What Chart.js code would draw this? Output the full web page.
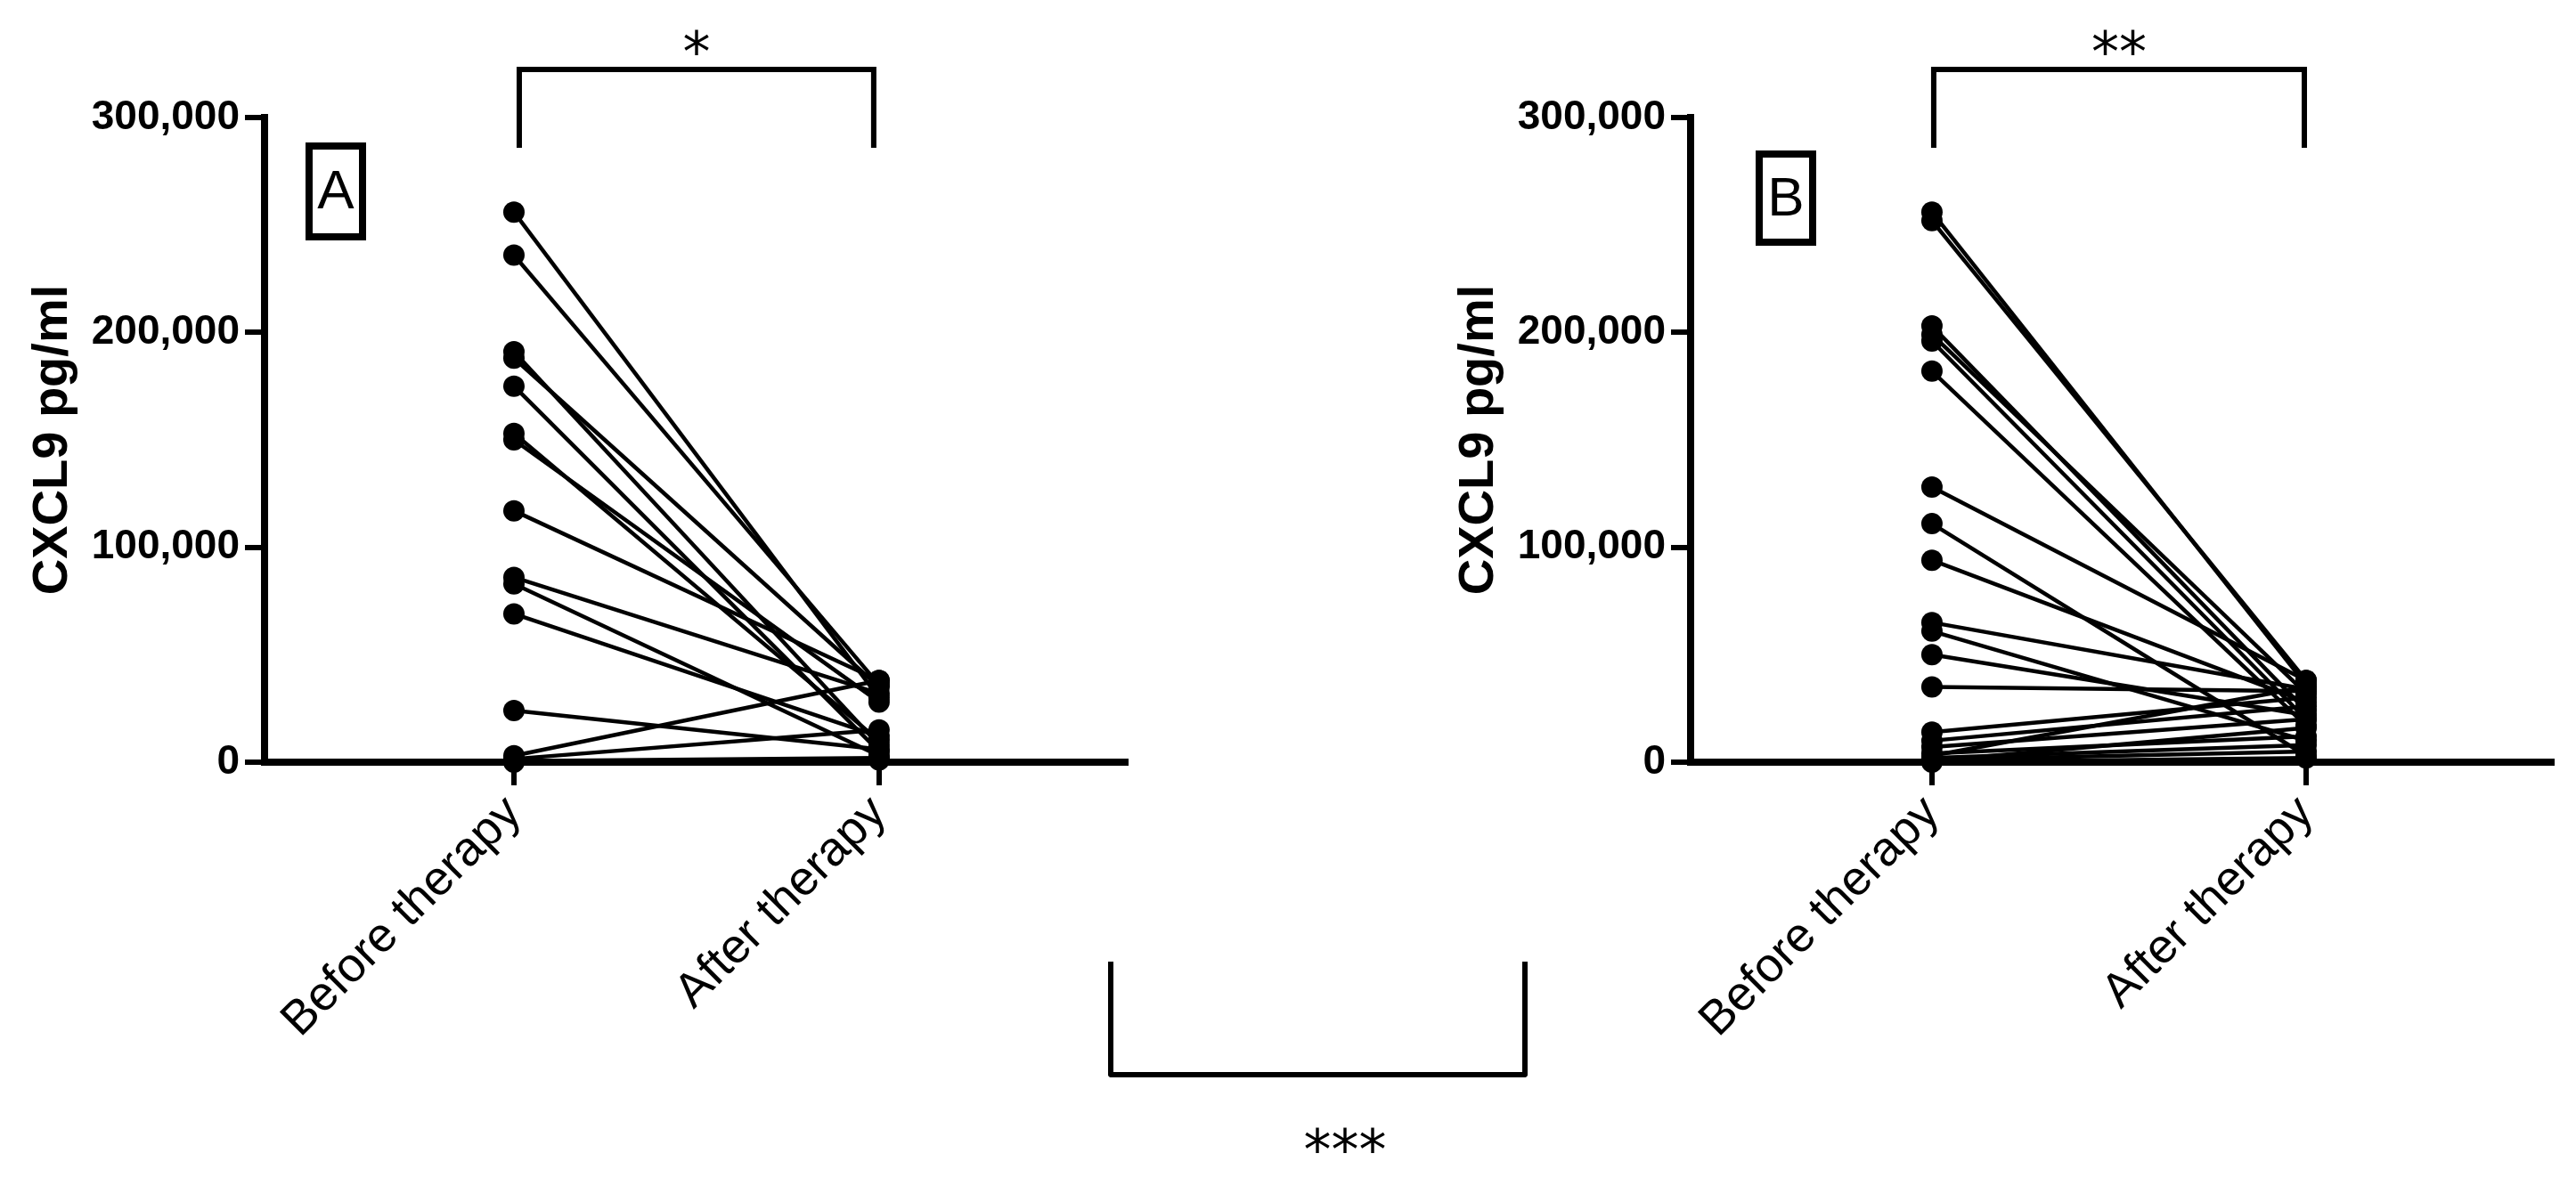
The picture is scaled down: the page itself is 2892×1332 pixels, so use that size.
<!DOCTYPE html>
<html>
<head>
<meta charset="utf-8">
<script src="https://cdn.jsdelivr.net/npm/chart.js@4.4.1/dist/chart.umd.min.js"></script>
<style>
  html, body { margin: 0; padding: 0; background: #fff; }
  body { width: 2892px; height: 1332px; position: relative; overflow: hidden; }
  .panel { position: absolute; top: 0; width: 1446px; height: 1332px; }
  #wrapA { left: 0; }
  #wrapB { left: 1446px; }
  #bracket { position: absolute; left: 1244px; top: 1080px; width: 459px; height: 124px;
             border: 6px solid #000; border-top: none; border-radius: 0 0 4px 4px; }
  #stars3 { position: absolute; left: 1410px; top: 1257px; width: 200px; text-align: center;
            font: 62px "DejaVu Sans", sans-serif; line-height: 70px; color: #000; }
</style>
</head>
<body>
<div class="panel" id="wrapA"><canvas id="chartA"></canvas></div>
<div class="panel" id="wrapB"><canvas id="chartB"></canvas></div>
<div id="bracket"></div>
<div id="stars3">***</div>
<script>
// groups on the x axis
var groups = ['Before therapy', 'After therapy'];
var yTicks = [0, 100000, 200000, 300000];
var yTitle = 'CXCL9 pg/ml';

// panel A, one entry per patient
var beforeA = [256000, 236000, 191000, 188000, 175000, 153000, 150000, 117000, 86000, 83000, 69000, 24000, 3000, 1500, 500, 0];
var afterA  = [30000, 36000, 8000, 35000, 5000, 10000, 28000, 38000, 32000, 3000, 12000, 6000, 38000, 15000, 2000, 1000];

// panel B
var beforeB = [256000, 252000, 203000, 199000, 196000, 182000, 128000, 111000, 94000, 65000, 61000, 50000, 35000, 14000, 10000, 7000, 4000, 3000, 2000, 1000, 500, 0];
var afterB  = [36000, 38000, 24000, 32000, 20000, 17000, 38000, 3000, 28000, 34000, 10000, 22000, 33000, 30000, 26000, 20000, 12000, 35000, 8000, 5000, 16000, 2000];

var FONT = "'Liberation Sans', Arial, sans-serif";

// brackets, stars and the letter box on top of each panel
var annotate = {
  id: 'annotate',
  afterDraw: function (chart, args, opts) {
    var ctx = chart.ctx;
    var x = chart.scales.x;
    var area = chart.chartArea;
    var x0 = x.getPixelForValue(0) + opts.inset;
    var x1 = x.getPixelForValue(1) - opts.inset;
    ctx.save();
    ctx.strokeStyle = '#000';
    ctx.fillStyle = '#000';
    ctx.lineWidth = 6;
    ctx.beginPath();
    ctx.moveTo(x0, 166);
    ctx.lineTo(x0, 78);
    ctx.lineTo(x1, 78);
    ctx.lineTo(x1, 166);
    ctx.stroke();

    ctx.font = "62px 'DejaVu Sans', sans-serif";
    ctx.textAlign = 'center';
    ctx.textBaseline = 'alphabetic';
    ctx.fillText(opts.stars, (x0 + x1) / 2, 80);

    // letter box
    var bx = area.left + opts.boxDx;
    ctx.lineWidth = 8;
    ctx.strokeRect(bx + 4, opts.boxTop + 4, 60, opts.boxH - 8);
    ctx.font = '300 62px ' + FONT;
    ctx.textBaseline = 'middle';
    ctx.fillText(opts.letter, bx + 34, opts.boxTop + opts.boxH / 2 + 2);
    ctx.restore();
  }
};

function makeChart(id, before, after, pad, xr, ann) {
  var datasets = [];
  for (var i = 0; i < before.length; i++) {
    datasets.push({
      data: [{ x: 0, y: before[i] }, { x: 1, y: after[i] }],
      borderColor: '#000',
      backgroundColor: '#000',
      borderWidth: 4.5,
      pointRadius: 12,
      pointBorderWidth: 0,
      pointBackgroundColor: '#000',
      clip: false
    });
  }

  return new Chart(document.getElementById(id), {
    type: 'line',
    data: { datasets: datasets },
    options: {
      responsive: true,
      maintainAspectRatio: false,
      animation: false,
      devicePixelRatio: 1,
      layout: { padding: pad },
      plugins: {
        legend: { display: false },
        tooltip: { enabled: false },
        annotate: ann
      },
      scales: {
        x: {
          type: 'linear',
          min: xr[0],
          max: xr[1],
          afterBuildTicks: function (scale) {
            scale.ticks = groups.map(function (g, k) { return { value: k }; });
          },
          afterFit: function (scale) { scale.height = 1332 - 856; },
          border: { display: true, color: '#000', width: 8 },
          grid: { drawOnChartArea: false, drawTicks: true, tickLength: 26, color: '#000', lineWidth: 6 },
          ticks: {
            autoSkip: false,
            maxRotation: 45,
            minRotation: 45,
            padding: 0,
            color: '#000',
            font: { family: FONT, size: 54 },
            callback: function (v) { return groups[v]; }
          }
        },
        y: {
          min: 0,
          max: 300000,
          afterBuildTicks: function (scale) {
            scale.ticks = yTicks.map(function (v) { return { value: v }; });
          },
          afterFit: function (scale) { scale.width = 297; },
          border: { display: true, color: '#000', width: 8 },
          grid: { drawOnChartArea: false, drawTicks: true, tickLength: 22, color: '#000', lineWidth: 6 },
          ticks: {
            padding: 6,
            color: '#000',
            font: { family: FONT, size: 46, weight: 'bold' },
            callback: function (v) { return v.toLocaleString('en-US'); }
          },
          title: {
            display: true,
            text: yTitle,
            color: '#000',
            padding: { top: 26, bottom: 0 },
            font: { family: FONT, size: 56, weight: 'bold' }
          }
        }
      }
    },
    plugins: [annotate]
  });
}

makeChart('chartA', beforeA, afterA,
  { left: 0, top: 132, right: 182, bottom: 0 },
  [-0.683, 1.676],
  { inset: 6, stars: '*', letter: 'A', boxDx: 46, boxTop: 160, boxH: 110 });

makeChart('chartB', beforeB, afterB,
  { left: 155, top: 132, right: 27, bottom: 0 },
  [-0.645, 1.657],
  { inset: 2, stars: '**', letter: 'B', boxDx: 73, boxTop: 169, boxH: 107 });
</script>
</body>
</html>
